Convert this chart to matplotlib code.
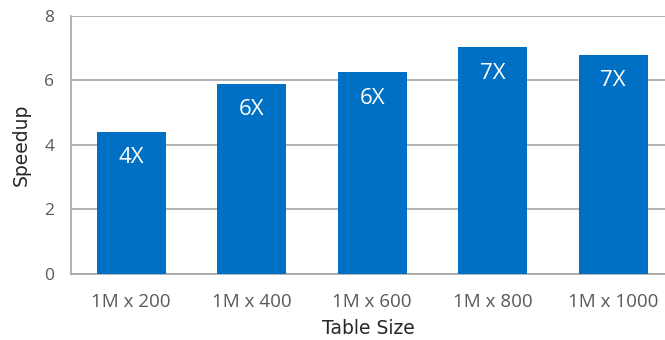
import matplotlib
matplotlib.use("Agg")
import matplotlib.pyplot as plt

categories = ["1M x 200", "1M x 400", "1M x 600", "1M x 800", "1M x 1000"]
speedup = [4.40, 5.88, 6.24, 7.02, 6.78]
bar_labels = ["4X", "6X", "6X", "7X", "7X"]
yticks = [0, 2, 4, 6, 8]

plt.rcParams['font.family'] = ['Open Sans', 'DejaVu Sans']

fig = plt.figure(figsize=(6.65, 3.4), dpi=100)
ax = fig.add_axes([71/665, 66.3/340, 1 - 71/665, (273.7 - 15.5)/340])

x = list(range(len(categories)))
ax.bar(x, speedup, width=0.57, color="#0070C4", zorder=3)
for xi, v, lab in zip(x, speedup, bar_labels):
    ax.annotate(lab, (xi, v), xytext=(0, -26), textcoords="offset pixels",
                ha="center", va="center", color="white", fontsize=16, zorder=4)

ax.set_xlim(-0.5, 4.43)
ax.set_ylim(0, 8)
ax.set_yticks(yticks)
ax.set_xticks(x)
ax.set_xticklabels(categories)
ax.tick_params(axis="both", length=0, labelcolor="#595959")
ax.tick_params(axis="x", pad=14, labelsize=13.5)
ax.tick_params(axis="y", pad=12, labelsize=12.5)
ax.yaxis.grid(True, color="#a6a6a6", linewidth=1.2, zorder=0)
for s in ["top", "right"]:
    ax.spines[s].set_visible(False)
ax.spines["left"].set_color("#a6a6a6")
ax.spines["bottom"].set_color("#a6a6a6")
ax.spines["left"].set_linewidth(1.2)
ax.spines["bottom"].set_linewidth(1.2)

ax.set_xlabel("Table Size", fontsize=13.5, color="#262626", labelpad=6,
              family=["DejaVu Sans"])
ax.set_ylabel("Speedup", fontsize=13.5, color="#262626", labelpad=10,
              family=["DejaVu Sans"])

fig.savefig("out.png", dpi=100)
